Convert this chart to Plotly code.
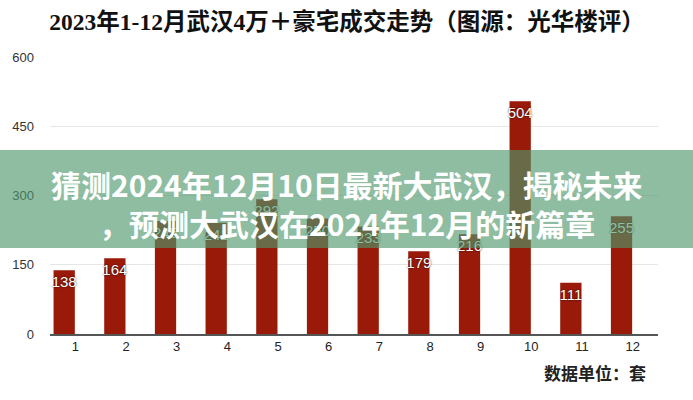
import plotly.graph_objects as go

months = [1, 2, 3, 4, 5, 6, 7, 8, 9, 10, 11, 12]
values = [138, 164, 245, 241, 292, 250, 233, 179, 216, 504, 111, 255]
y_ticks = [0, 150, 300, 450, 600]
title_text = "2023年1-12月武汉4万＋豪宅成交走势（图源：光华楼评）"
unit_text = "数据单位：套"
overlay_line1 = "猜测2024年12月10日最新大武汉，揭秘未来"
overlay_line2 = "，预测大武汉在2024年12月的新篇章"

L, T, W, H = 50, 57, 608, 277  # plot area in pixels

def px(x):
    return (x - L) / W

def py(y):
    return (T + H - y) / H

fig = go.Figure()
fig.add_trace(go.Bar(
    x=months, y=values,
    offset=-0.43, width=0.42,
    marker=dict(color="#9a1a0a", line=dict(width=0)),
    text=[str(v) for v in values],
    textposition="inside", insidetextanchor="end",
    constraintext="none", textangle=0,
    textfont=dict(family="Liberation Sans, Arial, sans-serif", size=15, color="white",
                  shadow="0px 0px 2px rgba(0,0,0,0.85)"),
    cliponaxis=False,
    hoverinfo="skip",
))

fig.update_layout(
    width=693, height=400,
    margin=dict(l=L, r=693 - L - W, t=T, b=400 - T - H),
    paper_bgcolor="white", plot_bgcolor="white",
    showlegend=False,
    title=dict(text=title_text, x=347 / 693, xref="container", xanchor="center",
               y=1 - 22 / 400, yref="container", yanchor="middle",
               font=dict(family="Liberation Serif, Noto Sans CJK SC, serif", size=23.5,
                         color="#111111", weight="bold")),
    xaxis=dict(range=[0.5, 12.5], tickmode="array", tickvals=months,
               ticktext=[str(m) for m in months],
               showgrid=False, zeroline=False,
               showline=True, linecolor="#555555", linewidth=1.5,
               ticks="", tickfont=dict(family="Liberation Sans, Arial, sans-serif",
                                       size=13, color="#222222")),
    yaxis=dict(range=[0, 600], tickmode="array", tickvals=y_ticks,
               showgrid=True, gridcolor="#e6e6e6", gridwidth=1,
               zeroline=False, showline=False, ticks="",
               ticklabelstandoff=15,
               tickfont=dict(family="Liberation Sans, Arial, sans-serif",
                             size=13, color="#333333")),
    bargap=0.5,
)

# semi-transparent green band over the chart
fig.add_shape(type="rect", xref="paper", yref="paper",
              x0=px(0), x1=px(693),
              y0=py(248), y1=py(150),
              fillcolor="rgba(78,152,108,0.64)", line=dict(width=0), layer="above")

for txt, yc in [(overlay_line1, 184), (overlay_line2, 223)]:
    fig.add_annotation(text=txt, xref="paper", yref="paper",
                       x=px(347), y=py(yc),
                       xanchor="center", yanchor="middle", showarrow=False, align="center",
                       font=dict(family="Noto Sans CJK SC, sans-serif", size=30,
                                 color="white", weight="bold"))

fig.add_annotation(text=unit_text, xref="paper", yref="paper",
                   x=px(648), y=py(372),
                   xanchor="right", yanchor="middle", showarrow=False,
                   font=dict(family="Noto Sans CJK SC, sans-serif", size=17,
                             color="#222222", weight="bold"))

fig.write_html("out.html", config={"displayModeBar": False},
               post_script="document.body.style.margin='0';")
